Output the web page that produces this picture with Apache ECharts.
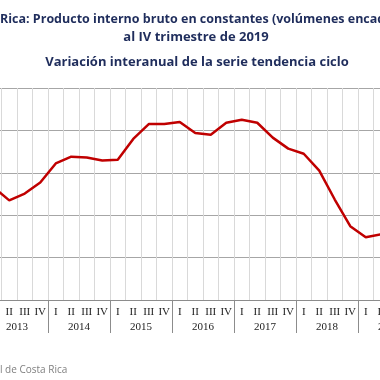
<!DOCTYPE html>
<html>
<head>
<meta charset="utf-8">
<script src="https://cdn.jsdelivr.net/npm/echarts@6/dist/echarts.min.js"></script>
<style>html,body{margin:0;padding:0;background:#fff}#c{width:380px;height:380px}</style>
</head>
<body>
<div id="c"></div>
<script>
const quarters = ['I','II','III','IV','I','II','III','IV','I','II','III','IV','I','II','III','IV','I','II','III','IV','I','II','III','IV','I','II','III','IV'];
const years = ['2013','2014','2015','2016','2017','2018','2019'];
const variacion = [2.66,2.35,2.51,2.77, 3.22,3.38,3.36,3.29, 3.31,3.80,4.15,4.15, 4.20,3.94,3.90,4.18, 4.25,4.18,3.83,3.57, 3.45,3.05,2.37,1.74, 1.48,1.55,1.62,1.70];
const yTicks = [0,1,2,3,4,5];
const titleLines = ['Costa Rica: Producto interno bruto en constantes (volúmenes encadenados)','al IV trimestre de 2019','Variación interanual de la serie tendencia ciclo'];
const sourceText = 'Fuente: Banco Central de Costa Rica';

const ctx = document.createElement('canvas').getContext('2d');
ctx.font = 'bold 12.5px "Open Sans"';
const prefixW = ctx.measureText('Costa ').width;
ctx.font = '10px "Open Sans"';
const srcPrefixW = ctx.measureText('Fuente: Banco Centra').width;

const chart = echarts.init(document.getElementById('c'), null, {renderer:'canvas'});
const titleFont = {fontFamily:'Open Sans', fontWeight:'bold', fontSize:13, fill:'#1f2d5c'};
chart.setOption({
  animation:false,
  backgroundColor:'#ffffff',
  grid:{left:-14, top:88, width:434, height:212, containLabel:false, outerBoundsMode:'none'},
  graphic:[
    {type:'text', x:-prefixW, y:19, style:Object.assign({}, titleFont, {text:titleLines[0], fontSize:12.5, align:'left', verticalAlign:'middle'})},
    {type:'text', x:196, y:37, style:Object.assign({text:titleLines[1], align:'center', verticalAlign:'middle'}, titleFont)},
    {type:'text', x:197, y:62, style:Object.assign({text:titleLines[2], align:'center', verticalAlign:'middle'}, titleFont)},
    {type:'text', x:-srcPrefixW, y:370, style:{text:sourceText, align:'left', verticalAlign:'middle', fontFamily:'Open Sans', fontSize:10, fill:'#7f7f7f'}}
  ],
  xAxis:[
    {type:'category', data:quarters, boundaryGap:true, position:'bottom',
     axisLine:{show:true, lineStyle:{color:'#8c8c8c', width:1}},
     axisTick:{show:false},
     axisLabel:{interval:0, margin:7, fontFamily:'Liberation Serif', fontSize:11, color:'#222'},
     splitLine:{show:true, interval:0, lineStyle:{color:'#d9d9d9', width:1}}},
    {type:'category', data:years, boundaryGap:true, position:'bottom',
     axisLine:{show:false},
     axisTick:{show:true, length:33, lineStyle:{color:'#8c8c8c', width:1}},
     axisLabel:{interval:0, margin:22, fontFamily:'Liberation Serif', fontSize:11, color:'#222'},
     splitLine:{show:false}}
  ],
  yAxis:{type:'value', min:yTicks[0], max:yTicks[yTicks.length-1], interval:1,
    axisLabel:{show:false}, axisLine:{show:false}, axisTick:{show:false},
    splitLine:{show:true, lineStyle:{color:'#a6a6a6', width:1}}},
  series:[{type:'line', data:variacion, xAxisIndex:0, showSymbol:false, smooth:false,
    lineStyle:{color:'#c00000', width:2.5}}]
});
</script>
</body>
</html>
